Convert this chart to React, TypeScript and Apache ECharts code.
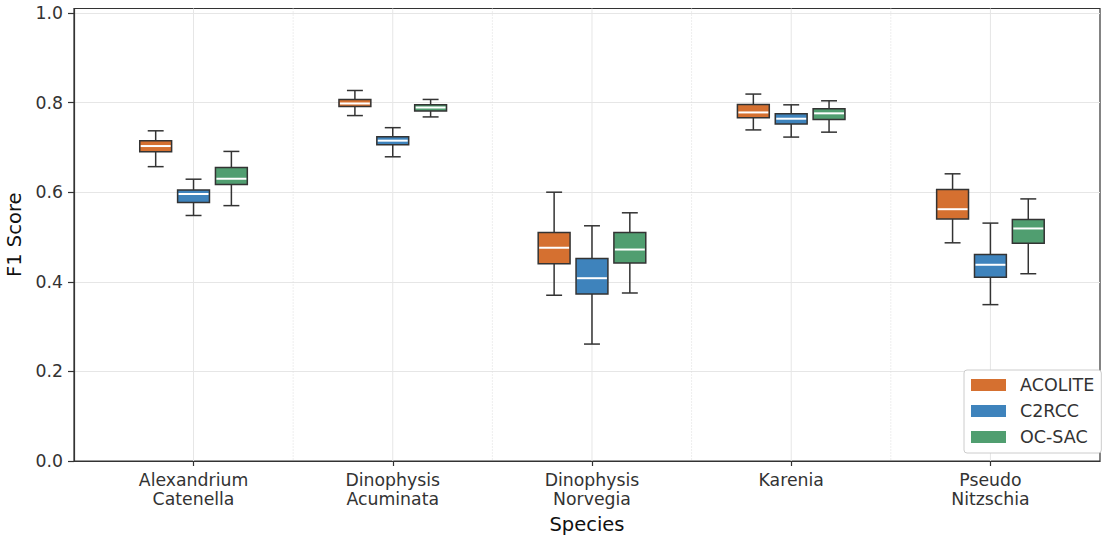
import React, { useEffect, useRef } from "react";
import * as echarts from "echarts";

const categories = [
  "Alexandrium\nCatenella",
  "Dinophysis\nAcuminata",
  "Dinophysis\nNorvegia",
  "Karenia",
  "Pseudo\nNitzschia",
];
const methods = ["ACOLITE", "C2RCC", "OC-SAC"];
const colors = ["#d57030", "#3e83bc", "#509e70"];
const yTicks = [0, 0.2, 0.4, 0.6, 0.8, 1.0];

// [lowerWhisker, q1, median, q3, upperWhisker]
const acolite = [
  [0.657, 0.69, 0.703, 0.715, 0.737],
  [0.771, 0.791, 0.798, 0.807, 0.827],
  [0.37, 0.44, 0.476, 0.51, 0.6],
  [0.739, 0.766, 0.778, 0.796, 0.819],
  [0.487, 0.54, 0.562, 0.606, 0.641],
];
const c2rcc = [
  [0.548, 0.577, 0.596, 0.605, 0.629],
  [0.679, 0.706, 0.715, 0.724, 0.744],
  [0.261, 0.373, 0.408, 0.452, 0.525],
  [0.723, 0.752, 0.764, 0.775, 0.795],
  [0.349, 0.41, 0.438, 0.461, 0.531],
];
const ocsac = [
  [0.57, 0.617, 0.63, 0.655, 0.691],
  [0.768, 0.781, 0.789, 0.795, 0.807],
  [0.375, 0.442, 0.472, 0.51, 0.554],
  [0.734, 0.762, 0.776, 0.786, 0.804],
  [0.418, 0.486, 0.519, 0.539, 0.585],
];
const seriesData = [acolite, c2rcc, ocsac];
const offsets = [-0.19, 0, 0.19];
const boxWidth = 0.16;

const centerLines = [0, 1, 2, 3, 4];
const midLines = [0.5, 1.5, 2.5, 3.5];

export default function App() {
  const ref = useRef<HTMLDivElement>(null);
  useEffect(() => {
    const chart = echarts.init(ref.current!, null, { renderer: "svg" });
    const font = "DejaVu Sans";

    const boxSeries = methods.map((name, si) => ({
      name,
      type: "custom",
      z: 5,
      itemStyle: { color: colors[si] },
      encode: { x: 0, y: [1, 2, 3, 4, 5] },
      data: seriesData[si].map((d, ci) => [ci, ...d]),
      renderItem: (params: any, api: any) => {
        const x = api.value(0) + offsets[si];
        const lo = api.coord([x, api.value(1)]);
        const q1 = api.coord([x, api.value(2)]);
        const med = api.coord([x, api.value(3)]);
        const q3 = api.coord([x, api.value(4)]);
        const hi = api.coord([x, api.value(5)]);
        const w = api.size([boxWidth, 0])[0];
        const cx = lo[0];
        const cap = w / 2;
        const lineStyle = { stroke: "#333333", lineWidth: 1.5 };
        return {
          type: "group",
          children: [
            { type: "line", shape: { x1: cx, y1: hi[1], x2: cx, y2: q3[1] }, style: lineStyle },
            { type: "line", shape: { x1: cx, y1: q1[1], x2: cx, y2: lo[1] }, style: lineStyle },
            { type: "line", shape: { x1: cx - cap / 2, y1: hi[1], x2: cx + cap / 2, y2: hi[1] }, style: lineStyle },
            { type: "line", shape: { x1: cx - cap / 2, y1: lo[1], x2: cx + cap / 2, y2: lo[1] }, style: lineStyle },
            {
              type: "rect",
              shape: { x: cx - w / 2, y: q3[1], width: w, height: q1[1] - q3[1] },
              style: { fill: colors[si], stroke: "#333333", lineWidth: 1.5 },
            },
            {
              type: "line",
              shape: { x1: cx - w / 2 + 1, y1: med[1], x2: cx + w / 2 - 1, y2: med[1] },
              style: { stroke: "#ffffff", lineWidth: 2 },
            },
          ],
        };
      },
    }));

    const vLineSeries = (vals: number[], dotted: boolean) => ({
      type: "custom",
      silent: true,
      z: 1,
      data: vals.map((v) => [v]),
      encode: { x: 0 },
      renderItem: (params: any, api: any) => {
        const top = api.coord([api.value(0), 1.01]);
        const bot = api.coord([api.value(0), 0]);
        return {
          type: "line",
          shape: { x1: top[0], y1: top[1], x2: bot[0], y2: bot[1] },
          style: dotted
            ? { stroke: "#dddddd", lineWidth: 1, lineDash: [1, 2] }
            : { stroke: "#e6e6e6", lineWidth: 1 },
        };
      },
    });

    chart.setOption({
      animation: false,
      textStyle: { fontFamily: font },
      grid: {
        left: 74,
        right: 9,
        top: 8.5,
        bottom: 74,
        containLabel: false,
        outerBoundsMode: "none",
        show: true,
        borderColor: "#333333",
        borderWidth: 1.2,
        backgroundColor: "transparent",
      },
      legend: {
        data: methods.map((m) => ({ name: m, icon: "rect" })),
        orient: "vertical",
        left: 964,
        top: 370,
        padding: [6, 7, 7, 7],
        itemWidth: 35,
        itemHeight: 12,
        itemGap: 8,
        backgroundColor: "#ffffff",
        borderColor: "#cccccc",
        borderWidth: 1,
        borderRadius: 3,
        itemStyle: { borderWidth: 0 },
        textStyle: { fontFamily: font, fontSize: 17.5, color: "#333333", padding: [0, 0, 0, 9], lineHeight: 17.5 },
      },
      xAxis: {
        type: "value",
        min: -0.6,
        max: 4.55,
        name: "Species",
        nameLocation: "middle",
        nameGap: 53,
        nameTextStyle: { fontFamily: font, fontSize: 19.5, color: "#111111" },
        axisLine: { show: true, onZero: false, lineStyle: { color: "#333333", width: 1.2 } },
        axisTick: { show: true, length: 5, customValues: centerLines, lineStyle: { color: "#333333", width: 1.2 } },
        axisLabel: {
          customValues: centerLines,
          formatter: (v: number) => categories[Math.round(v)] ?? "",
          fontFamily: font,
          fontSize: 17.3,
          color: "#333333",
          lineHeight: 19.5,
          margin: 9,
        },
        splitLine: { show: false },
      },
      yAxis: {
        type: "value",
        min: 0,
        max: 1.01,
        name: "F1 Score",
        nameLocation: "middle",
        nameGap: 45,
        nameTextStyle: { fontFamily: font, fontSize: 19.5, color: "#111111" },
        axisLine: { show: true, onZero: false, lineStyle: { color: "#333333", width: 1.2 } },
        axisTick: { show: true, length: 6, customValues: yTicks, lineStyle: { color: "#333333", width: 1.2 } },
        axisLabel: {
          customValues: yTicks,
          formatter: (v: number) => v.toFixed(1),
          fontFamily: font,
          fontSize: 17.3,
          color: "#333333",
          margin: 11,
        },
        splitLine: { show: true, lineStyle: { color: "#e6e6e6", width: 1 } },
      },
      series: [vLineSeries(centerLines, false), vLineSeries(midLines, true), ...boxSeries],
    });
    return () => chart.dispose();
  }, []);
  return <div ref={ref} style={{ width: 1109, height: 535, position: "absolute", left: 0, top: 0 }} />;
}
